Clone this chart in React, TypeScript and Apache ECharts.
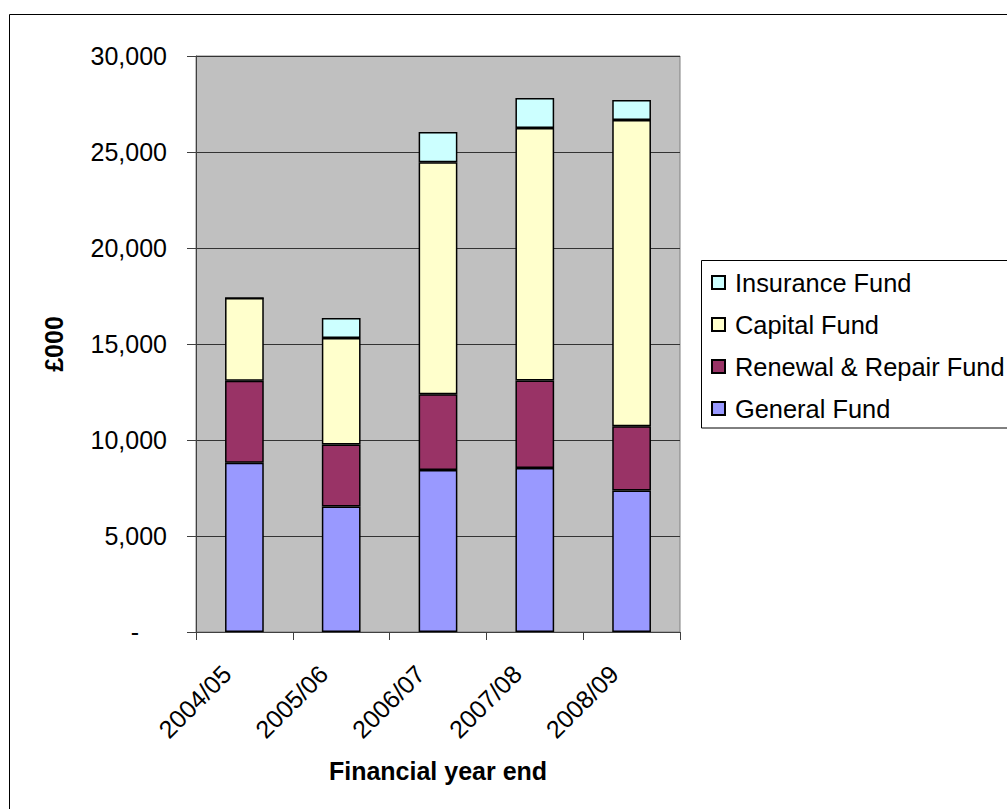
import React, { useEffect, useRef } from "react";
import * as echarts from "echarts";

const categories = ["2004/05", "2005/06", "2006/07", "2007/08", "2008/09"];
const generalFund = [8820, 6540, 8440, 8540, 7375];
const renewalFund = [4270, 3230, 3940, 4560, 3335];
const capitalFund = [4310, 5540, 12080, 13150, 15960];
const insuranceFund = [0, 1040, 1580, 1560, 1040];
const legendOrder = ["Insurance Fund", "Capital Fund", "Renewal & Repair Fund", "General Fund"];

const FONT = "'Liberation Sans', Arial, sans-serif";

export default function App() {
  const ref = useRef<HTMLDivElement>(null);
  useEffect(() => {
    if (!ref.current) return;
    const chart = echarts.init(ref.current, undefined, { renderer: "svg" });
    const mk = (name: string, data: number[], color: string) => ({
      name,
      type: "bar",
      stack: "total",
      data,
      barWidth: "40%",
      itemStyle: { color, borderColor: "#000", borderWidth: 1.5 },
    });
    chart.setOption({
      animation: false,
      backgroundColor: "#fff",
      textStyle: { fontFamily: FONT },
      grid: {
        left: 196,
        top: 56,
        width: 484,
        height: 576,
        show: true,
        backgroundColor: "#C0C0C0",
        borderColor: "#808080",
        borderWidth: 1,
      },
      legend: {
        data: legendOrder,
        orient: "vertical",
        left: 701,
        top: 260,
        padding: [10, 10, 8, 10],
        itemWidth: 13,
        itemHeight: 13,
        itemGap: 17,
        borderWidth: 0,
        icon: "rect",
        textStyle: { fontFamily: FONT, fontSize: 25.4, color: "#000", lineHeight: 25, padding: [0, 0, 0, 5] },
      },
      xAxis: {
        type: "category",
        data: categories,
        name: "Financial year end",
        nameLocation: "middle",
        nameGap: 126,
        nameTextStyle: { fontFamily: FONT, fontSize: 25, fontWeight: "bold", color: "#000" },
        axisLine: { lineStyle: { color: "#404040", width: 1 } },
        axisTick: { show: true, length: 8, inside: false, alignWithLabel: false, lineStyle: { color: "#404040" } },
        axisLabel: {
          rotate: 45,
          margin: 20,
          fontFamily: FONT,
          fontSize: 25,
          color: "#000",
          padding: [0, 25, 0, 0],
        },
        splitLine: { show: false },
      },
      yAxis: {
        type: "value",
        min: 0,
        max: 30000,
        interval: 5000,
        name: "£000",
        nameLocation: "middle",
        nameGap: 130,
        nameRotate: 90,
        nameTextStyle: { fontFamily: FONT, fontSize: 25, fontWeight: "bold", color: "#000" },
        axisLine: { show: true, lineStyle: { color: "#404040", width: 1 } },
        axisTick: { show: true, length: 9, inside: false, lineStyle: { color: "#404040" } },
        axisLabel: {
          margin: 29,
          fontFamily: FONT,
          fontSize: 25,
          color: "#000",
          formatter: (v: number) => (v === 0 ? "{d|-}" : v.toLocaleString("en-GB")),
          rich: {
            d: { fontFamily: FONT, fontSize: 25, color: "#000", padding: [0, 28, 0, 0] },
          },
        },
        splitLine: { show: true, lineStyle: { color: "#333", width: 1 } },
      },
      graphic: [
        {
          type: "rect",
          shape: { x: 9.5, y: 14.5, width: 1100, height: 900 },
          style: { fill: "none", stroke: "#000", lineWidth: 1 },
          silent: true,
          z: 100,
        },
        {
          type: "rect",
          shape: { x: 701.5, y: 260.5, width: 400, height: 167.5 },
          style: { fill: "none", stroke: "#000", lineWidth: 1 },
          silent: true,
          z: 100,
        },
      ],
      series: [
        mk("General Fund", generalFund, "#9999FF"),
        mk("Renewal & Repair Fund", renewalFund, "#993366"),
        mk("Capital Fund", capitalFund, "#FFFFCC"),
        mk("Insurance Fund", insuranceFund, "#CCFFFF"),
      ],
    });
    return () => chart.dispose();
  }, []);
  return (
    <div
      ref={ref}
      style={{ position: "fixed", left: 0, top: 0, width: 1007, height: 809 }}
    />
  );
}
